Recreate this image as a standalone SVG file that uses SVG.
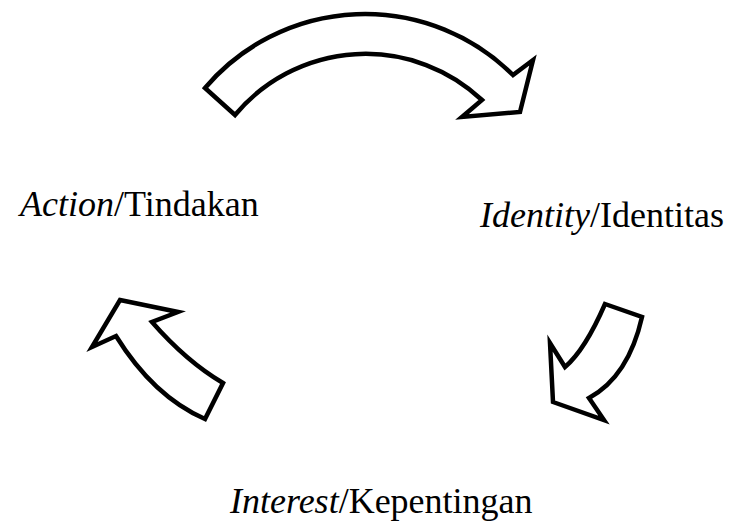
<svg xmlns="http://www.w3.org/2000/svg" width="734" height="521" viewBox="0 0 734 521">
<style>
.arr{fill:#fff;stroke:#000;stroke-width:4.5;stroke-linejoin:miter}
.t{font-family:"Liberation Serif","Times New Roman",serif;font-size:36px;fill:#000}
.i{font-style:italic}
</style>
<rect width="734" height="521" fill="#fff"/>
<g id="connectors">
<path class="arr" d="M205,88 A210,210 0 0 1 513,75 L533,60 L520,112 L462,117 L482,100 A170,170 0 0 0 235,115 Z"/>
<path class="arr" d="M605,304 L642,317 Q628.5,376.5 589,398 L604,420 L553,402 L550,343 L565,367 Q585,350 605,304 Z"/>
<path class="arr" d="M120,300 L178,312 L152,322 Q186.5,361.5 223,383 L205,419 Q153.5,396.5 116,336 L92,347 Z"/>
</g>
<g id="action"><text class="t" x="20" y="216"><tspan class="i">Action</tspan>/Tindakan</text></g>
<g id="identity"><text class="t" x="480" y="227"><tspan class="i">Identity</tspan>/Identitas</text></g>
<g id="interest"><text class="t" x="230" y="513"><tspan class="i">Interest</tspan>/Kepentingan</text></g>
</svg>
